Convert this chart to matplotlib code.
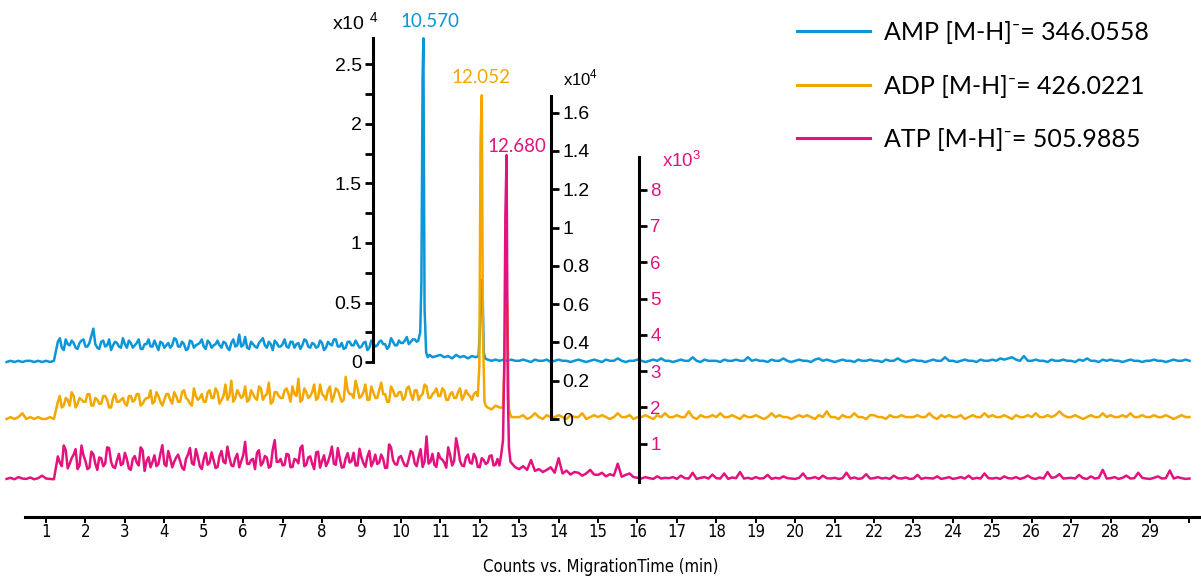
import numpy as np
import matplotlib
matplotlib.use("Agg")
import matplotlib.pyplot as plt
from matplotlib.font_manager import FontProperties

plt.rcParams['mathtext.fontset'] = 'custom'
plt.rcParams['mathtext.rm'] = 'Liberation Sans'

# ---------------- data ----------------
# sampling grid of the baselines (min), 0.0 ... 30.0 every 0.1 min,
# plus intermediate samples (x.x5 min) in the noisy parts
t_step = 0.1
n_pts = 301
mid_start = 1.35

# baseline values, AMP and ADP in 0.01 x10^4 counts, ATP in 0.01 x10^3 counts
amp_base = [
    0, 1, 0, 1, 0, 1, 1, 0, 1, 0,
    1, 0, 1, 17, 12, 19, 14, 16, 11, 18,
    13, 16, 28, 12, 17, 13, 19, 14, 16, 12,
    15, 18, 12, 16, 11, 15, 19, 13, 14, 17,
    12, 16, 14, 19, 13, 15, 11, 17, 14, 16,
    13, 18, 12, 15, 14, 17, 12, 16, 13, 23,
    14, 12, 17, 13, 16, 20, 12, 15, 18, 13,
    15, 13, 17, 12, 16, 14, 18, 12, 15, 13,
    16, 12, 15, 19, 13, 16, 12, 17, 14, 15,
    13, 17, 12, 16, 14, 18, 15, 13, 17, 14,
    16, 18, 15, 19, 17, 20, 50, 10, 4, 5,
    6, 4, 5, 3, 6, 4, 5, 3, 5, 4,
    5, 5, 2, 1, 2, 1, 2, 1, 2, 1,
    1, 2, 1, 0, 2, 1, 1, 2, 0, 1,
    2, 1, 1, 0, 1, 2, 1, 0, 1, 2,
    1, 0, 2, 1, 1, 3, 1, 0, 1, 1,
    2, 1, 0, 1, 2, 1, 3, 1, 1, 0,
    1, 2, 1, 1, 4, 1, 0, 2, 1, 1,
    1, 0, 2, 1, 1, 2, 1, 1, 4, 1,
    2, 1, 1, 0, 2, 1, 1, 3, 1, 0,
    1, 2, 1, 1, 0, 2, 3, 1, 2, 1,
    0, 1, 2, 1, 1, 0, 2, 1, 1, 2,
    1, 1, 0, 2, 1, 1, 3, 1, 0, 1,
    2, 1, 1, 0, 1, 2, 1, 1, 4, 1,
    1, 0, 1, 2, 1, 1, 0, 2, 1, 1,
    2, 1, 3, 2, 3, 4, 2, 1, 5, 1,
    1, 2, 1, 1, 0, 2, 1, 1, 2, 1,
    1, 0, 2, 1, 3, 1, 1, 0, 2, 1,
    2, 1, 1, 0, 1, 2, 1, 1, 0, 1,
    1, 2, 1, 1, 0, 1, 2, 1, 1, 2,
    1,
]
amp_mid = [  # 1.35 ... 10.35
    20, 10, 15, 18, 12, 16, 19, 13, 22, 15,
    11, 18, 14, 10, 17, 13, 20, 12, 16, 14,
    19, 11, 15, 13, 18, 10, 16, 14, 12, 20,
    13, 17, 10, 18, 12, 15, 19, 11, 16, 14,
    18, 12, 16, 10, 19, 14, 13, 21, 11, 15,
    12, 18, 14, 17, 10, 16, 13, 19, 12, 17,
    15, 11, 19, 13, 16, 12, 18, 10, 17, 14,
    19, 13, 11, 17, 14, 18, 12, 16, 10, 18,
    13, 17, 15, 11, 20, 14, 18, 16, 21, 17,
    19,
]

adp_base = [
    0, 1, 0, 1, 3, 0, 1, 0, 1, 0,
    0, 1, 0, 9, 6, 11, 7, 12, 8, 10,
    9, 13, 7, 10, 8, 12, 6, 11, 9, 10,
    8, 12, 9, 13, 7, 10, 11, 8, 14, 9,
    10, 13, 8, 12, 9, 15, 10, 7, 12, 11,
    9, 14, 11, 16, 8, 12, 10, 20, 11, 13,
    12, 9, 15, 11, 17, 10, 13, 8, 14, 12,
    11, 16, 9, 13, 21, 10, 14, 12, 18, 11,
    13, 10, 17, 12, 15, 9, 22, 13, 11, 16,
    12, 18, 10, 14, 11, 19, 13, 9, 15, 12,
    14, 11, 17, 10, 15, 12, 18, 11, 13, 16,
    12, 15, 10, 14, 11, 16, 12, 13, 10, 14,
    12, 8, 6, 5, 7, 6, 5, 0, 1, 1,
    1, 2, 0, 1, 3, 1, 0, 2, 1, 1,
    2, 1, 0, 2, 1, 1, 3, 0, 1, 2,
    1, 2, 1, 0, 1, 3, 1, 1, 2, 0,
    1, 1, 2, 1, 0, 2, 1, 3, 1, 1,
    2, 1, 1, 4, 1, 0, 2, 1, 1, 2,
    1, 3, 1, 1, 2, 1, 0, 2, 1, 1,
    2, 1, 0, 1, 3, 1, 2, 1, 1, 0,
    1, 2, 1, 2, 1, 0, 2, 1, 4, 1,
    1, 0, 2, 1, 1, 3, 1, 1, 0, 2,
    2, 1, 1, 0, 2, 1, 1, 2, 1, 1,
    1, 2, 1, 1, 3, 1, 0, 2, 1, 2,
    1, 1, 2, 0, 1, 2, 1, 1, 3, 1,
    2, 1, 1, 2, 1, 0, 2, 1, 1, 2,
    1, 3, 1, 1, 2, 1, 2, 4, 2, 1,
    1, 2, 1, 0, 1, 2, 1, 1, 3, 1,
    2, 1, 1, 2, 1, 3, 1, 1, 2, 1,
    1, 2, 1, 1, 2, 1, 0, 1, 2, 1,
    1,
]
adp_mid = [  # 1.35 ... 11.85
    12, 7, 10, 14, 6, 11, 9, 13, 7, 11,
    8, 12, 10, 6, 13, 9, 11, 7, 12, 10,
    13, 8, 11, 15, 9, 12, 7, 13, 10, 14,
    9, 14, 11, 8, 16, 10, 13, 9, 15, 11,
    14, 10, 18, 12, 9, 15, 11, 17, 10, 13,
    10, 16, 12, 19, 9, 14, 11, 15, 13, 17,
    12, 9, 16, 11, 14, 10, 18, 12, 15, 9,
    16, 12, 10, 15, 13, 20, 11, 14, 10, 17,
    11, 15, 13, 9, 17, 12, 14, 10, 16, 13,
    15, 10, 13, 17, 11, 14, 12, 16, 10, 13,
    11, 14, 10, 15, 12, 13,
]

atp_base = [
    3, 6, 2, 8, 4, 3, 7, 2, 5, 12,
    4, 3, 2, 65, 38, 82, 45, 70, 30, 95,
    52, 34, 71, 28, 60, 45, 88, 36, 55, 41,
    75, 32, 58, 48, 90, 25, 63, 50, 38, 72,
    44, 80, 35, 62, 52, 28, 70, 46, 85, 38,
    58, 42, 76, 33, 66, 50, 92, 40, 60, 35,
    68, 45, 55, 30, 82, 48, 62, 38, 110, 50,
    40, 72, 35, 58, 46, 95, 42, 65, 30, 78,
    52, 38, 68, 45, 88, 34, 60, 48, 75, 40,
    62, 36, 80, 50, 44, 70, 33, 98, 55, 42,
    66, 40, 58, 75, 38, 85, 50, 45, 72, 36,
    60, 48, 90, 40, 115, 52, 38, 70, 45, 62,
    35, 55, 48, 68, 42, 40, 50, 80, 45, 35,
    30, 38, 28, 55, 25, 30, 22, 28, 35, 20,
    60, 18, 26, 15, 22, 20, 12, 18, 28, 15,
    14, 20, 10, 16, 12, 45, 9, 14, 18, 8,
    6, 4, 8, 5, 3, 10, 4, 6, 5, 8,
    3, 12, 5, 4, 20, 3, 6, 8, 4, 15,
    5, 4, 18, 3, 7, 5, 22, 4, 6, 3,
    8, 4, 5, 14, 3, 6, 4, 10, 5, 4,
    3, 6, 18, 4, 5, 8, 3, 12, 5, 4,
    6, 3, 5, 20, 4, 7, 3, 5, 16, 4,
    5, 8, 4, 6, 3, 12, 5, 4, 7, 3,
    4, 14, 3, 6, 5, 4, 10, 3, 5, 8,
    3, 5, 8, 4, 12, 3, 6, 4, 18, 5,
    4, 6, 3, 10, 5, 4, 8, 3, 6, 12,
    5, 3, 7, 4, 22, 6, 8, 16, 4, 5,
    6, 4, 14, 5, 3, 10, 4, 6, 28, 4,
    5, 8, 3, 6, 12, 4, 5, 20, 6, 4,
    3, 6, 10, 4, 5, 26, 4, 8, 5, 3,
    4,
]
atp_mid = [  # 1.35 ... 12.45
    48, 95, 32, 60, 85, 40, 68, 30, 78, 45,
    62, 38, 90, 50, 33, 72, 45, 58, 28, 66,
    40, 82, 52, 35, 68, 44, 96, 38, 60, 50,
    70, 34, 58, 88, 42, 64, 30, 75, 48, 55,
    36, 80, 46, 62, 38, 72, 52, 105, 44, 58,
    75, 40, 66, 34, 84, 50, 58, 42, 70, 36,
    55, 88, 38, 62, 45, 76, 34, 68, 50, 92,
    42, 60, 36, 74, 52, 40, 86, 46, 64, 38,
    70, 48, 58, 34, 90, 44, 62, 52, 38, 80,
    46, 64, 36, 120, 50, 42, 74, 56, 34, 68,
    52, 88, 40, 62, 48, 72, 36, 60, 44, 66,
    40, 58,
]

# peak detail (min, display units)
amp_pk1_t = [10.44, 10.49, 10.52, 10.55, 10.57, 10.60, 10.64, 10.68, 10.73]
amp_pk1_v = [0.18, 0.25, 0.66, 2.38, 2.72, 0.45, 0.08, 0.04, 0.06]
amp_pk2_t = [11.97, 12.01, 12.04, 12.07, 12.10, 12.14]
amp_pk2_v = [0.05, 0.32, 0.69, 0.66, 0.08, 0.03]
adp_pk1_t = [11.95, 11.99, 12.02, 12.052, 12.08, 12.12, 12.15]
adp_pk1_v = [0.12, 0.28, 1.45, 1.69, 0.45, 0.09, 0.07]
adp_pk2_t = [12.59, 12.63, 12.67, 12.70, 12.74, 12.78]
adp_pk2_v = [0.06, 0.30, 0.78, 0.55, 0.05, 0.02]
atp_pk_t = [12.55, 12.59, 12.62, 12.65, 12.68, 12.71, 12.74, 12.78, 12.82]
atp_pk_v = [0.75, 1.1, 3.1, 7.3, 8.95, 2.5, 0.9, 0.5, 0.45]

peak_labels = ["10.570", "12.052", "12.680"]
legend_labels = ["AMP [M-H]\u207b= 346.0558",
                 "ADP [M-H]\u207b= 426.0221",
                 "ATP [M-H]\u207b= 505.9885"]
colors = ["#0a96d8", "#f2a800", "#e4127f"]


def build(base, mid, peaks):
    t = np.concatenate([np.round(np.arange(n_pts) * t_step, 2),
                        np.round(mid_start + np.arange(len(mid)) * t_step, 2)])
    v = np.concatenate([np.asarray(base, float), np.asarray(mid, float)]) / 100.0
    keep = np.ones_like(t, bool)
    pt_all, pv_all = [], []
    for pt, pv in peaks:
        keep &= ~((t >= min(pt)) & (t <= max(pt)))
        pt_all += list(pt)
        pv_all += list(pv)
    tt = np.concatenate([t[keep], pt_all])
    vv = np.concatenate([v[keep], pv_all])
    o = np.argsort(tt, kind="stable")
    return tt[o], vv[o]


amp_t, amp_v = build(amp_base, amp_mid, [(amp_pk1_t, amp_pk1_v), (amp_pk2_t, amp_pk2_v)])
adp_t, adp_v = build(adp_base, adp_mid, [(adp_pk1_t, adp_pk1_v), (adp_pk2_t, adp_pk2_v)])
atp_t, atp_v = build(atp_base, atp_mid, [(atp_pk_t, atp_pk_v)])

# ---------------- figure ----------------
W, H = 1201, 576
fig = plt.figure(figsize=(W / 100, H / 100), dpi=100)
rect = [0, 59 / H, 1, 517 / H]
px_per_min = 39.43
x0_px = 6.6
xlim = (-x0_px / px_per_min, (W - x0_px) / px_per_min)

ax = fig.add_axes(rect)
ax.set_xlim(*xlim)
ax.patch.set_visible(False)
for s in ["left", "right", "top"]:
    ax.spines[s].set_visible(False)
ax.spines["bottom"].set_linewidth(2.2)
ax.spines["bottom"].set_bounds(0.47, xlim[1])
ax.set_yticks([])
ax.set_xticks(range(1, 31))
ax.set_xticklabels([str(i) for i in range(1, 30)] + [""])
ax.tick_params(axis="x", direction="out", length=4.5, width=1.4, pad=0, labelsize=12)
xfont = FontProperties(family="DejaVu Sans", stretch="condensed", size=12)
for lab in ax.get_xticklabels():
    lab.set_fontproperties(xfont)
ax.set_xlabel("Counts vs. MigrationTime (min)", fontproperties=xfont, labelpad=12)

tick_font = "Liberation Sans"


def overlay(ylim, spine_x, bounds, ticks, labels, side, labcolor, size):
    a = fig.add_axes(rect, sharex=ax)
    a.patch.set_visible(False)
    a.set_ylim(*ylim)
    for s in a.spines.values():
        s.set_visible(False)
    sp = a.spines[side]
    sp.set_visible(True)
    sp.set_position(("data", spine_x))
    sp.set_bounds(*bounds)
    sp.set_linewidth(2.2)
    a.yaxis.set_ticks_position(side)
    a.set_yticks(ticks)
    a.set_yticklabels(labels)
    a.tick_params(axis="y", direction="out", length=6, width=2, pad=2,
                  labelsize=size, labelcolor=labcolor)
    for lab in a.get_yticklabels():
        lab.set_family(tick_font)
    a.xaxis.set_visible(False)
    return a


# AMP axis: 0 at px 362, 119 px per unit
amp_scale = 119.0
ax_amp = overlay(((362 - 517) / amp_scale, 362 / amp_scale), 9.29, (0, 2.72),
                 [i * 0.25 for i in range(11)],
                 ["0", "", "0.5", "", "1", "", "1.5", "", "2", "", "2.5"],
                 "left", "black", 14)
# ADP axis: 0 at px 419, 191.5 px per unit
adp_scale = 191.5
ax_adp = overlay(((419 - 517) / adp_scale, 419 / adp_scale), 13.81, (0, 1.687),
                 [i * 0.2 for i in range(9)],
                 ["0", "0.2", "0.4", "0.6", "0.8", "1", "1.2", "1.4", "1.6"],
                 "right", "black", 14)
# ATP axis: 0 at px 480, 36.3 px per unit
atp_scale = 36.3
ax_atp = overlay(((480 - 517) / atp_scale, 480 / atp_scale), 16.04, (-0.05, 8.9),
                 list(range(1, 9)), [str(i) for i in range(1, 9)],
                 "right", colors[2], 13.5)

lw = 1.8
l1, = ax_amp.plot(amp_t, amp_v, color=colors[0], lw=lw, label=legend_labels[0], zorder=1)
l2, = ax_adp.plot(adp_t, adp_v, color=colors[1], lw=lw, label=legend_labels[1], zorder=1)
l3, = ax_atp.plot(atp_t, atp_v, color=colors[2], lw=lw, label=legend_labels[2], zorder=1)

# multiplier labels
ax_amp.text(9.43, 2.79, r"x10 $^{\mathrm{4}}$", ha="right", va="baseline",
            fontsize=14, family=tick_font)
ax_adp.text(14.11, 1.744, r"x10$^{\mathrm{4}}$", ha="left", va="baseline",
            fontsize=12, family=tick_font)
ax_atp.text(16.62, 8.62, r"x10$^{\mathrm{3}}$", ha="left", va="baseline",
            fontsize=13.5, family=tick_font, color=colors[2])

# peak labels
pk_font = ["Lato", "DejaVu Sans"]
ax_amp.text(10.74, 2.815, peak_labels[0], color=colors[0], ha="center",
            va="baseline", fontsize=13.5, family=pk_font)
ax_adp.text(12.03, 1.755, peak_labels[1], color=colors[1], ha="center",
            va="baseline", fontsize=13.5, family=pk_font)
ax_atp.text(12.94, 9.04, peak_labels[2], color=colors[2], ha="center",
            va="baseline", fontsize=13.5, family=pk_font)

leg = fig.legend([l1, l2, l3], legend_labels, loc="upper left",
                 bbox_to_anchor=(797 / W, 1 - 21 / H), frameon=False,
                 prop=FontProperties(family=["Lato", "DejaVu Sans"], size=18),
                 handlelength=2.9, handletextpad=0.6, labelspacing=1.22,
                 borderpad=0, borderaxespad=0)
for h in leg.legend_handles:
    h.set_linewidth(2.2)

fig.savefig("out.png", dpi=100)
